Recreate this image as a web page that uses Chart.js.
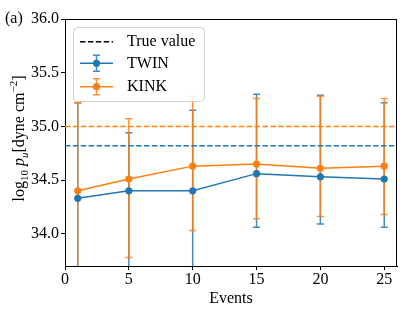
<!DOCTYPE html>
<html>
<head>
<meta charset="utf-8">
<script src="https://cdn.jsdelivr.net/npm/chart.js@4/dist/chart.umd.min.js"></script>
<style>
html,body{margin:0;padding:0;background:#fff;}
#wrap{width:407px;height:313px;position:relative;}
</style>
</head>
<body>
<div id="wrap"><canvas id="c" width="407" height="313"></canvas></div>
<script>
// ---- data ----
const events = [1, 5, 10, 15, 20, 25];
const twinValues = [34.33, 34.40, 34.40, 34.56, 34.53, 34.51];
const twinLower  = [33.44, 33.50, 33.40, 34.06, 34.09, 34.06];
const twinUpper  = [35.22, 34.94, 35.15, 35.30, 35.29, 35.22];
const kinkValues = [34.40, 34.51, 34.63, 34.65, 34.61, 34.63];
const kinkLower  = [33.55, 33.78, 34.03, 34.14, 34.16, 34.18];
const kinkUpper  = [35.22, 35.07, 35.28, 35.26, 35.28, 35.26];
const trueTwin = 34.82;
const trueKink = 35.0;
const xTicks = [0, 5, 10, 15, 20, 25];
const yTicks = [34.0, 34.5, 35.0, 35.5, 36.0];
const xRange = [0, 26];
const yRange = [33.7, 36.0];

const BLUE = '#1f77b4', ORANGE = '#ff7f0e';
const FONT = "'Liberation Serif', 'Times New Roman', serif";

const errData = {
  TWIN: {lo: twinLower, hi: twinUpper, color: 'rgba(31,119,180,0.85)'},
  KINK: {lo: kinkLower, hi: kinkUpper, color: 'rgba(255,127,14,0.85)'}
};

const errorBarPlugin = {
  id: 'errbars',
  beforeDatasetsDraw(chart) {
    const ctx = chart.ctx, ca = chart.chartArea;
    const xs = chart.scales.x, ys = chart.scales.y;
    ctx.save();
    ctx.beginPath();
    ctx.rect(ca.left, ca.top, ca.right - ca.left, ca.bottom - ca.top);
    ctx.clip();
    ['TWIN', 'KINK'].forEach(name => {
      const e = errData[name];
      ctx.strokeStyle = e.color;
      ctx.lineWidth = 1.5;
      events.forEach((ev, i) => {
        const px = xs.getPixelForValue(ev);
        const y1 = ys.getPixelForValue(e.lo[i]);
        const y2 = ys.getPixelForValue(e.hi[i]);
        ctx.beginPath();
        ctx.moveTo(px, y1); ctx.lineTo(px, y2);
        ctx.moveTo(px - 3.5, y1); ctx.lineTo(px + 3.5, y1);
        ctx.moveTo(px - 3.5, y2); ctx.lineTo(px + 3.5, y2);
        ctx.stroke();
      });
    });
    ctx.restore();
  }
};

const decorPlugin = {
  id: 'decor',
  afterDraw(chart) {
    const ctx = chart.ctx, ca = chart.chartArea;
    ctx.save();
    // frame top/right
    ctx.strokeStyle = '#000';
    ctx.lineWidth = 1;
    ctx.beginPath();
    ctx.moveTo(ca.left, ca.top + 0.5); ctx.lineTo(ca.right, ca.top + 0.5);
    ctx.moveTo(ca.right - 0.5, ca.top); ctx.lineTo(ca.right - 0.5, ca.bottom);
    ctx.stroke();

    // legend
    const lx = 73.5, ly = 27.5, lw = 131, lh = 74, r = 4;
    ctx.fillStyle = 'rgba(255,255,255,0.85)';
    ctx.strokeStyle = '#d0d0d0';
    ctx.lineWidth = 1;
    ctx.beginPath();
    ctx.moveTo(lx + r, ly);
    ctx.arcTo(lx + lw, ly, lx + lw, ly + lh, r);
    ctx.arcTo(lx + lw, ly + lh, lx, ly + lh, r);
    ctx.arcTo(lx, ly + lh, lx, ly, r);
    ctx.arcTo(lx, ly, lx + lw, ly, r);
    ctx.closePath();
    ctx.fill(); ctx.stroke();

    const hx0 = 80, hx1 = 113, hmid = 96.5;
    // True value
    ctx.strokeStyle = '#000';
    ctx.lineWidth = 1.5;
    ctx.setLineDash([5.5, 2.4]);
    ctx.beginPath(); ctx.moveTo(hx0, 41.7); ctx.lineTo(hx1, 41.7); ctx.stroke();
    ctx.setLineDash([]);
    const rows = [
      {label: 'TWIN', y: 63.3, c: BLUE, e: errData.TWIN.color},
      {label: 'KINK', y: 86.7, c: ORANGE, e: errData.KINK.color}
    ];
    rows.forEach(rw => {
      ctx.strokeStyle = rw.e;
      ctx.beginPath();
      ctx.moveTo(hmid, rw.y - 8); ctx.lineTo(hmid, rw.y + 8);
      ctx.moveTo(hmid - 3.5, rw.y - 8); ctx.lineTo(hmid + 3.5, rw.y - 8);
      ctx.moveTo(hmid - 3.5, rw.y + 8); ctx.lineTo(hmid + 3.5, rw.y + 8);
      ctx.stroke();
      ctx.strokeStyle = rw.c;
      ctx.beginPath(); ctx.moveTo(hx0, rw.y); ctx.lineTo(hx1, rw.y); ctx.stroke();
      ctx.fillStyle = rw.c;
      ctx.beginPath(); ctx.arc(hmid, rw.y, 3.6, 0, Math.PI * 2); ctx.fill();
    });
    ctx.fillStyle = '#000';
    ctx.font = '16px ' + FONT;
    ctx.textBaseline = 'middle';
    ctx.textAlign = 'left';
    ctx.fillText('True value', 127, 41.5);
    ctx.fillText('TWIN', 127, 63.3);
    ctx.fillText('KINK', 127, 86.7);

    // panel label
    ctx.textBaseline = 'alphabetic';
    ctx.fillText('(a)', 5, 23);

    // y-axis title with sub/superscripts
    const parts = [
      {t: 'log', f: '16px ' + FONT, dy: 0},
      {t: '10', f: '11px ' + FONT, dy: 4},
      {t: ' ', f: '16px ' + FONT, dy: 0},
      {t: 'p', f: 'italic 16px ' + FONT, dy: 0},
      {t: 'u', f: 'italic 11px ' + FONT, dy: 4},
      {t: '[dyne cm', f: '16px ' + FONT, dy: 0},
      {t: '\u22122', f: '11px ' + FONT, dy: -7},
      {t: ']', f: '16px ' + FONT, dy: 0}
    ];
    let total = 0;
    parts.forEach(p => { ctx.font = p.f; p.w = ctx.measureText(p.t).width; total += p.w; });
    ctx.translate(24, 138.5);
    ctx.rotate(-Math.PI / 2);
    let cx = -total / 2;
    parts.forEach(p => { ctx.font = p.f; ctx.fillText(p.t, cx, p.dy); cx += p.w; });
    ctx.restore();
  }
};

const mkLine = (val, color) => [{x: xRange[0], y: val}, {x: xRange[1], y: val}];

new Chart(document.getElementById('c'), {
  type: 'line',
  data: {
    datasets: [
      {label: 'KINK', data: events.map((e, i) => ({x: e, y: kinkValues[i]})),
       borderColor: ORANGE, backgroundColor: ORANGE, borderWidth: 1.5,
       pointRadius: 3.6, pointBorderWidth: 0, pointBackgroundColor: ORANGE, order: 1},
      {label: 'TWIN', data: events.map((e, i) => ({x: e, y: twinValues[i]})),
       borderColor: BLUE, backgroundColor: BLUE, borderWidth: 1.5,
       pointRadius: 3.6, pointBorderWidth: 0, pointBackgroundColor: BLUE, order: 2},
      {label: 'True KINK', data: mkLine(trueKink), borderColor: ORANGE, borderWidth: 1.5,
       borderDash: [5.5, 2.4], pointRadius: 0, order: 3},
      {label: 'True TWIN', data: mkLine(trueTwin), borderColor: BLUE, borderWidth: 1.5,
       borderDash: [5.5, 2.4], pointRadius: 0, order: 4}
    ]
  },
  options: {
    responsive: false,
    animation: false,
    events: [],
    layout: {padding: {top: 19, right: 10, left: 0, bottom: 0}},
    plugins: {legend: {display: false}, tooltip: {enabled: false}},
    scales: {
      x: {
        type: 'linear', min: xRange[0], max: xRange[1],
        afterFit: s => { s.height = 47; },
        afterBuildTicks: s => { s.ticks = xTicks.map(v => ({value: v})); },
        grid: {drawOnChartArea: false, drawTicks: true, tickLength: 4, tickColor: '#000'},
        border: {color: '#000', width: 1},
        ticks: {color: '#000', font: {family: FONT, size: 16}, padding: 0, maxRotation: 0},
        title: {display: true, text: 'Events', color: '#000', font: {family: FONT, size: 16},
                padding: {top: 0, bottom: 5}}
      },
      y: {
        type: 'linear', min: yRange[0], max: yRange[1],
        afterFit: s => { s.width = 65; },
        afterBuildTicks: s => { s.ticks = yTicks.map(v => ({value: v})); },
        grid: {drawOnChartArea: false, drawTicks: true, tickLength: 4, tickColor: '#000'},
        border: {color: '#000', width: 1},
        ticks: {color: '#000', font: {family: FONT, size: 16}, padding: 2,
                callback: v => Number(v).toFixed(1)}
      }
    }
  },
  plugins: [errorBarPlugin, decorPlugin]
});
</script>
</body>
</html>
